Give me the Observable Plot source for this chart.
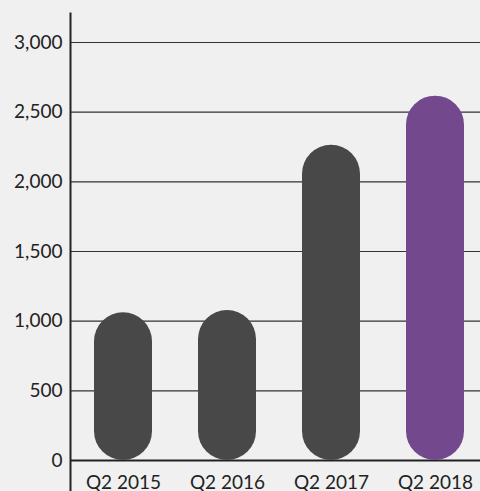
<!DOCTYPE html>
<html>
<head>
<meta charset="utf-8">
<script src="https://cdn.jsdelivr.net/npm/d3@7"></script>
<script src="https://cdn.jsdelivr.net/npm/@observablehq/plot@0.6"></script>
<style>
  html, body { margin: 0; padding: 0; background: #f0f0f0; }
  #chart svg { display: block; background: #f0f0f0; }
</style>
</head>
<body>
<div id="chart"></div>
<script>
const quarters = ["Q2 2015", "Q2 2016", "Q2 2017", "Q2 2018"];
const values = [1060, 1077, 2262, 2615];
const colors = ["#484848", "#484848", "#484848", "#74488c"];
const yTicks = [0, 500, 1000, 1500, 2000, 2500, 3000];

const data = quarters.map((q, i) => ({quarter: q, value: values[i], color: colors[i]}));

const chart = Plot.plot({
  width: 480,
  height: 491,
  marginTop: 13,
  marginBottom: 0,
  marginLeft: 70,
  marginRight: 0,
  style: {background: "#f0f0f0", fontFamily: "Lato, 'Open Sans', sans-serif", fontSize: "19px", color: "#222"},
  x: {domain: quarters, range: [70, 488], paddingInner: 0.445, paddingOuter: 0.2225, axis: null},
  y: {domain: [-222, 3208], axis: null},
  marks: [
    Plot.ruleY(yTicks.filter(d => d > 0), {stroke: "#333", strokeWidth: 1.2}),
    Plot.ruleY([0], {stroke: "#222", strokeWidth: 2}),
    Plot.barY(data, {x: "quarter", y: "value", fill: "color", rx: 29, ry: 29}),
    Plot.axisY({ticks: yTicks, tickSize: 0, tickPadding: 8, tickFormat: d3.format(","), label: null, fontSize: 19, fill: "#222"}),
    Plot.text(quarters, {x: d => d, frameAnchor: "bottom", lineAnchor: "bottom", dy: -3, fontSize: 19, fill: "#222"}),
    Plot.frame({anchor: "left", stroke: "#222", strokeWidth: 2})
  ]
});
document.getElementById("chart").appendChild(chart);
</script>
</body>
</html>
